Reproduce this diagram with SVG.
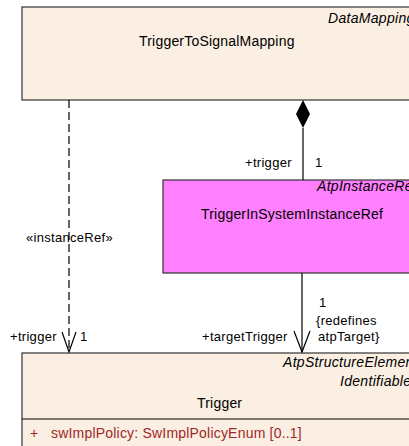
<svg xmlns="http://www.w3.org/2000/svg" width="409" height="446" viewBox="0 0 409 446">
<style>
text{font-family:"Liberation Sans",Arial,sans-serif;font-size:13px;fill:#000;letter-spacing:0.3px}
.cls{font-size:14px;letter-spacing:0.2px}
.st{font-style:italic;font-size:14px;letter-spacing:0.3px}
.attr{fill:#A02828;font-size:14px;letter-spacing:0.2px}
.box{fill:#FAEFE2;stroke:#333;stroke-width:1.2}
.pink{fill:#FF80FF;stroke:#333;stroke-width:1.2}
.ln{stroke:#000;stroke-width:1.2;fill:none}
</style>
<rect width="409" height="446" fill="#fff"/>
<g id="TriggerToSignalMapping">
<rect class="box" x="22" y="7" width="394" height="93"/>
<text class="st" x="328" y="23">DataMapping</text>
<text class="cls" x="139" y="46">TriggerToSignalMapping</text>
</g>
<g id="TriggerInSystemInstanceRef">
<rect class="pink" x="163" y="180" width="252" height="93"/>
<text class="st" x="317" y="191">AtpInstanceRef</text>
<text class="cls" x="201" y="219">TriggerInSystemInstanceRef</text>
</g>
<g id="Trigger">
<rect class="box" x="22" y="353" width="394" height="100"/>
<line class="ln" x1="22" y1="419" x2="416" y2="419"/>
<text class="st" x="283" y="367">AtpStructureElement</text>
<text class="st" x="340" y="386">Identifiable</text>
<text class="cls" x="197" y="408">Trigger</text>
<text class="attr" x="30" y="438">+</text>
<text class="attr" x="51" y="438">swImplPolicy: SwImplPolicyEnum [0..1]</text>
</g>
<g id="connectors">
<line class="ln" x1="303" y1="128" x2="303" y2="180"/>
<polygon points="303,100 310,114 303,128 296,114" fill="#000"/>
<text x="245" y="167">+trigger</text>
<text x="315" y="167">1</text>
<line class="ln" x1="302" y1="273" x2="302" y2="352"/>
<polyline class="ln" points="294,331 302,352 310,331"/>
<text x="202" y="341">+targetTrigger</text>
<text x="319" y="307">1</text>
<text x="316" y="325">{redefines</text>
<text x="318" y="341">atpTarget}</text>
<line class="ln" x1="69" y1="100" x2="69" y2="352" stroke-dasharray="8,4"/>
<polyline class="ln" points="62,332 69,352 76,332"/>
<text x="26" y="242">«instanceRef»</text>
<text x="10" y="341">+trigger</text>
<text x="80" y="341">1</text>
</g>
</svg>
